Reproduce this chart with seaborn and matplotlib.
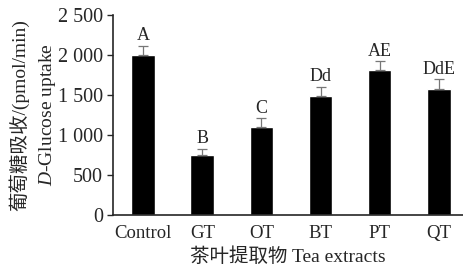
import matplotlib
matplotlib.use("Agg")
import matplotlib.pyplot as plt
import seaborn as sns
import pandas as pd
import numpy as np
from matplotlib.ticker import FuncFormatter

groups = ["Control", "GT", "OT", "BT", "PT", "QT"]
uptake = [2000, 750, 1100, 1490, 1810, 1575]
err = [115, 75, 110, 115, 110, 120]
letters = ["A", "B", "C", "Dd", "AE", "DdE"]

sns.set_style("ticks")
plt.rcParams["font.family"] = ["Liberation Serif", "Noto Sans CJK SC"]
plt.rcParams["mathtext.fontset"] = "custom"
plt.rcParams["mathtext.it"] = "Liberation Serif:italic"
plt.rcParams["mathtext.rm"] = "Liberation Serif"

df = pd.DataFrame({"group": groups, "uptake": uptake})

fig = plt.figure(figsize=(4.63, 2.69), dpi=100)
ax = fig.add_axes([0.244, 0.2007, 0.756, 0.7433])

sns.barplot(data=df, x="group", y="uptake", color="black", width=0.4,
            errorbar=None, ax=ax, saturation=1)

x = np.arange(len(groups))
ax.errorbar(x, uptake, yerr=[np.zeros(len(err)), err], fmt="none",
            ecolor="#777777", elinewidth=0.9, capsize=3.5, capthick=0.9)

for xi, v, e, lab in zip(x, uptake, err, letters):
    ax.text(xi, v + e + 20, lab, ha="center", va="bottom", fontsize=13)

ax.set_xlim(-0.51, 5.41)
ax.set_ylim(0, 2500)
ax.set_yticks([0, 500, 1000, 1500, 2000, 2500])
ax.yaxis.set_major_formatter(FuncFormatter(lambda v, p: f"{int(v):,}".replace(",", " ")))
ax.tick_params(axis="y", direction="out", length=4, width=1, labelsize=14.5, pad=3)
ax.tick_params(axis="x", length=0, labelsize=13.5, pad=7)
sns.despine(ax=ax)
for s in ["left", "bottom"]:
    ax.spines[s].set_linewidth(1.2)

ax.set_xlabel("茶叶提取物 Tea extracts", fontsize=14, labelpad=4)
ax.set_ylabel("葡萄糖吸收/(pmol/min)\n$\\mathit{D}$-Glucose uptake", fontsize=14,
              labelpad=0, linespacing=1.5)

fig.savefig("out.png", dpi=100)
